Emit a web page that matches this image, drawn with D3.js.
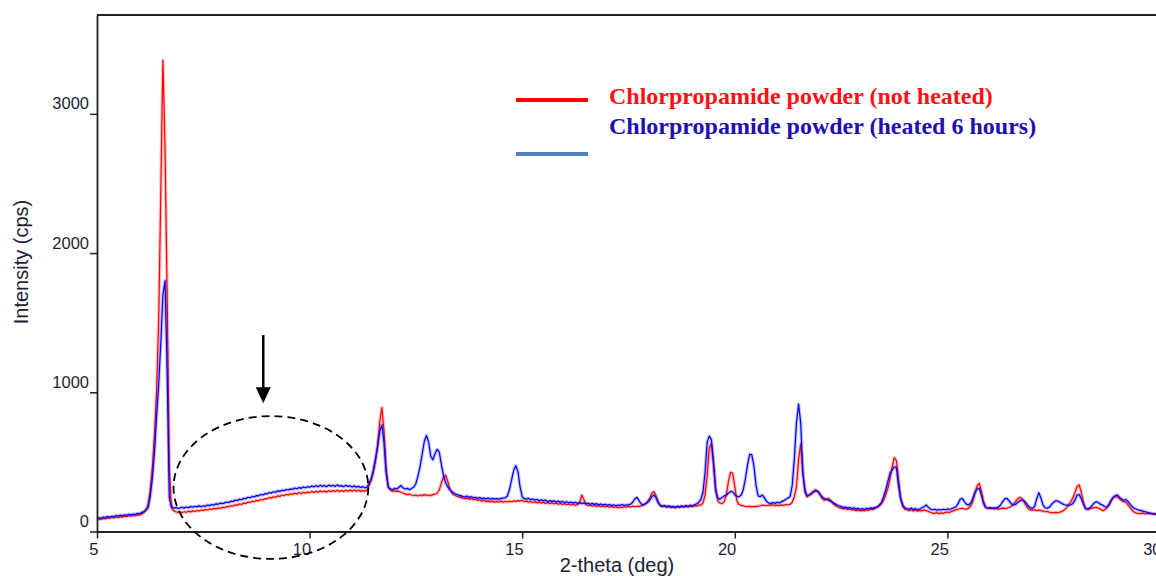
<!DOCTYPE html>
<html>
<head>
<meta charset="utf-8">
<script src="https://cdn.jsdelivr.net/npm/d3@7"></script>
<style>
  body { margin: 0; background: #fff; }
  svg { display: block; }
</style>
</head>
<body>
<div class="chart"></div>
<script>
// scan settings (2-theta, deg)
const scanStart = 5
const scanStep = 0.05

// Chlorpropamide powder (not heated), cps, one value per step from 5.00 to 30.00
const notHeated = [
  85, 90, 88, 94, 91, 98, 95, 101, 98, 104,
  101, 107, 104, 110, 107, 113, 110, 116, 113, 119,
  118, 125, 135, 155, 190, 290, 450, 680, 1000, 1500,
  2430, 3385, 2750, 1700, 450, 170, 150, 142, 138, 140,
  136, 142, 138, 146, 141, 148, 144, 151, 147, 154,
  152, 158, 155, 162, 158, 166, 162, 170, 166, 174,
  172, 180, 176, 185, 182, 192, 188, 198, 194, 204,
  202, 212, 208, 218, 214, 224, 220, 230, 226, 236,
  234, 244, 240, 250, 246, 256, 252, 262, 258, 266,
  262, 272, 266, 276, 270, 280, 272, 282, 276, 284,
  278, 288, 280, 290, 282, 292, 284, 290, 283, 294,
  286, 294, 287, 296, 288, 295, 287, 296, 289, 297,
  290, 298, 289, 296, 288, 294, 290, 298, 330, 370,
  430, 510, 620, 790, 890, 720, 450, 320, 298, 290,
  292, 288, 290, 282, 275, 270, 265, 268, 262, 258,
  262, 255, 262, 258, 265, 260, 262, 258, 265, 268,
  275, 300, 350, 390, 405, 360, 300, 275, 262, 255,
  250, 245, 240, 236, 240, 232, 236, 228, 232, 224,
  228, 218, 224, 215, 220, 212, 218, 210, 216, 212,
  218, 210, 216, 212, 218, 214, 220, 216, 222, 218,
  224, 214, 218, 210, 216, 208, 214, 206, 212, 204,
  210, 202, 208, 200, 206, 198, 204, 196, 202, 194,
  200, 192, 198, 190, 196, 188, 194, 205, 262, 230,
  195, 186, 190, 182, 188, 180, 186, 178, 184, 176,
  182, 174, 180, 172, 178, 170, 176, 172, 178, 174,
  180, 176, 182, 178, 183, 179, 184, 190, 200, 215,
  240, 275, 286, 255, 210, 185, 178, 182, 174, 180,
  172, 176, 170, 178, 172, 180, 174, 182, 176, 184,
  178, 186, 182, 190, 190, 205, 260, 400, 600, 630,
  500, 300, 220, 205, 200, 215, 260, 360, 425, 420,
  320, 220, 195, 188, 185, 180, 178, 182, 176, 180,
  178, 182, 185, 190, 188, 185, 190, 188, 192, 186,
  190, 186, 192, 188, 194, 192, 195, 210, 250, 320,
  520, 630, 420, 280, 250, 262, 275, 290, 300, 290,
  265, 240, 225, 232, 238, 225, 205, 190, 180, 172,
  168, 162, 166, 158, 162, 155, 158, 150, 154, 148,
  152, 148, 156, 152, 160, 158, 166, 172, 185, 200,
  225, 265, 310, 380, 460, 530, 510, 380, 240, 180,
  160, 156, 150, 158, 148, 154, 146, 152, 148, 155,
  150, 144, 138, 132, 130, 136, 128, 134, 130, 136,
  140, 136, 145, 150, 156, 160, 165, 167, 162, 160,
  168, 185, 220, 280, 330, 346, 290, 215, 175, 167,
  165, 168, 162, 166, 160, 164, 168, 166, 167, 172,
  180, 195, 215, 235, 245, 238, 215, 185, 165, 155,
  152, 156, 150, 154, 150, 146, 142, 145, 138, 136,
  135, 138, 135, 140, 145, 155, 170, 190, 215, 240,
  280, 325, 334, 280, 210, 165, 160, 162, 168, 172,
  174, 168, 160, 150, 155, 170, 195, 225, 245, 250,
  248, 235, 220, 215, 210, 190, 170, 150, 138, 132,
  130, 128, 132, 126, 130, 128, 126, 124, 122, 120,
  118
]

// Chlorpropamide powder (heated 6 hours), cps
const heated6h = [
  92, 98, 95, 104, 100, 108, 103, 110, 106, 114,
  110, 118, 112, 120, 116, 124, 119, 126, 122, 130,
  128, 137, 142, 155, 170, 250, 380, 560, 820, 1050,
  1350, 1700, 1800, 1150, 240, 180, 168, 172, 165, 170,
  174, 168, 176, 171, 179, 174, 181, 177, 184, 178,
  185, 181, 190, 186, 194, 190, 199, 195, 204, 200,
  206, 212, 208, 218, 215, 226, 222, 232, 228, 238,
  236, 246, 242, 252, 248, 258, 256, 266, 262, 272,
  270, 280, 276, 285, 282, 292, 288, 296, 293, 302,
  298, 306, 302, 312, 306, 316, 310, 320, 314, 322,
  318, 326, 320, 330, 322, 332, 324, 330, 322, 334,
  326, 332, 324, 335, 326, 330, 322, 332, 324, 328,
  320, 328, 318, 324, 316, 322, 314, 320, 345, 380,
  440, 520, 610, 720, 765, 640, 420, 320, 305, 300,
  310, 305, 318, 330, 312, 305, 310, 300, 310, 318,
  345, 400, 470, 560, 650, 690, 640, 540, 515, 560,
  590, 570, 480, 400, 350, 320, 300, 285, 275, 268,
  262, 258, 252, 248, 255, 245, 250, 242, 246, 238,
  244, 236, 240, 234, 240, 232, 238, 233, 236, 232,
  238, 240, 242, 255, 300, 370, 440, 472, 430, 320,
  250, 236, 232, 238, 228, 234, 226, 230, 222, 228,
  220, 226, 214, 222, 216, 220, 212, 218, 210, 216,
  208, 214, 206, 212, 204, 210, 202, 208, 200, 206,
  198, 204, 196, 202, 195, 200, 192, 198, 190, 196,
  188, 194, 186, 192, 184, 190, 188, 194, 186, 192,
  190, 198, 210, 235, 245, 220, 198, 192, 200, 210,
  225, 250, 262, 240, 205, 188, 182, 186, 178, 184,
  176, 180, 174, 182, 176, 184, 178, 186, 180, 188,
  184, 192, 198, 210, 230, 280, 420, 640, 685, 660,
  480, 300, 240, 232, 245, 255, 262, 275, 288, 284,
  265, 252, 250, 262, 300, 380, 480, 555, 550, 470,
  330, 255, 250, 262, 240, 215, 205, 200, 208, 202,
  210, 205, 215, 220, 232, 240, 250, 330, 520, 780,
  915, 780, 420, 300, 255, 262, 270, 282, 292, 288,
  270, 250, 238, 230, 225, 218, 210, 200, 192, 185,
  180, 172, 176, 168, 172, 165, 170, 162, 166, 158,
  164, 158, 166, 162, 170, 166, 174, 178, 190, 210,
  250, 300, 360, 420, 440, 465, 460, 330, 235, 190,
  170, 165, 160, 168, 158, 164, 156, 162, 170, 178,
  190, 175, 162, 156, 160, 152, 158, 154, 160, 156,
  162, 158, 165, 170, 178, 200, 232, 238, 215, 195,
  190, 205, 240, 280, 305, 310, 260, 200, 172, 167,
  172, 166, 170, 168, 175, 190, 215, 235, 238, 220,
  200, 190, 195, 208, 220, 226, 222, 205, 185, 170,
  166, 180, 235, 279, 240, 190, 170, 167, 175, 195,
  210, 221, 218, 210, 200, 192, 190, 188, 192, 200,
  225, 262, 265, 235, 195, 165, 160, 170, 185, 205,
  214, 208, 195, 190, 178, 175, 190, 220, 245, 258,
  262, 245, 232, 226, 228, 215, 195, 178, 165, 160,
  154, 150, 146, 142, 138, 134, 130, 128, 126, 122,
  120
]

const xTicks = [5, 10, 15, 20, 25, 30]
const yTicks = [0, 1000, 2000, 3000]
const seriesNames = ['Chlorpropamide powder (not heated)', 'Chlorpropamide powder (heated 6 hours)']
const lineColors = ['#ff0000', '#0000ff']
const legendTextColors = ['#ff1010', '#2010b0']
const legendLineColors = ['#ff0000', '#4f81bd']

const W = 1156, H = 576
const margin = {left: 97, top: 15, bottom: 44.5}
const plotRight = 1160

const svg = d3.select('.chart')
  .append('svg')
  .attr('width', W)
  .attr('height', H)

const x = d3.scaleLinear().domain([5, 30]).range([margin.left, plotRight])
const y = d3.scaleLinear().domain([0, 3710]).range([H - margin.bottom, margin.top])

const pts = arr => arr.map((v, i) => [scanStart + i * scanStep, v])

const line = d3.line()
  .x(d => x(d[0]))
  .y(d => y(d[1]))

const series = [pts(notHeated), pts(heated6h)]

// traces (red first, blue on top), soft halo under a thin core
series.forEach((s, k) => {
  svg.append('path')
    .datum(s)
    .attr('d', line)
    .attr('fill', 'none')
    .attr('stroke', lineColors[k])
    .attr('stroke-opacity', 0.25)
    .attr('stroke-width', 3.4)
    .attr('stroke-linejoin', 'round')
  svg.append('path')
    .datum(s)
    .attr('d', line)
    .attr('fill', 'none')
    .attr('stroke', lineColors[k])
    .attr('stroke-width', 1.2)
    .attr('stroke-linejoin', 'round')
})

// frame top
svg.append('line')
  .attr('x1', margin.left).attr('x2', plotRight)
  .attr('y1', y.range()[1]).attr('y2', y.range()[1])
  .attr('stroke', '#222').attr('stroke-width', 1.8)

const axisFont = '"Liberation Sans", Arial, sans-serif'

const yAxis = svg.append('g')
  .attr('transform', `translate(${margin.left},0)`)
  .call(d3.axisLeft(y).tickValues(yTicks).tickFormat(d3.format('d')).tickSize(7).tickSizeOuter(0).tickPadding(1))
yAxis.select('.domain').attr('stroke', '#222').attr('stroke-width', 1.8)
yAxis.selectAll('.tick line').attr('stroke', '#222').attr('stroke-width', 1.5)
yAxis.selectAll('.tick text')
  .attr('dy', '-5')
  .attr('fill', '#1c2233')
  .style('font-family', axisFont)
  .style('font-size', '16.5px')

const xAxis = svg.append('g')
  .attr('transform', `translate(0,${y(0)})`)
  .call(d3.axisBottom(x).tickValues(xTicks).tickFormat(d3.format('d')).tickSize(7).tickSizeOuter(0))
xAxis.select('.domain').attr('stroke', '#222').attr('stroke-width', 1.8)
xAxis.selectAll('.tick line').attr('stroke', '#222').attr('stroke-width', 1.5)
xAxis.selectAll('.tick text')
  .attr('text-anchor', 'end')
  .attr('x', 1)
  .attr('y', 23)
  .attr('dy', 0)
  .attr('fill', '#1c2233')
  .style('font-family', axisFont)
  .style('font-size', '16.5px')

// axis titles
svg.append('text')
  .attr('x', 617).attr('y', 572)
  .attr('text-anchor', 'middle')
  .attr('fill', '#1c2233')
  .style('font-family', axisFont)
  .style('font-size', '20px')
  .text('2-theta (deg)')

svg.append('text')
  .attr('transform', 'translate(27.5,262) rotate(-90)')
  .attr('text-anchor', 'middle')
  .attr('fill', '#1c2233')
  .style('font-family', axisFont)
  .style('font-size', '20px')
  .text('Intensity (cps)')

// legend
const legend = svg.append('g')
legend.selectAll('line')
  .data(legendLineColors)
  .enter()
  .append('line')
  .attr('x1', 516).attr('x2', 588)
  .attr('y1', (d, i) => i ? 154 : 100)
  .attr('y2', (d, i) => i ? 154 : 100)
  .attr('stroke', d => d)
  .attr('stroke-width', 4)
legend.selectAll('text')
  .data(seriesNames)
  .enter()
  .append('text')
  .attr('x', 609)
  .attr('y', (d, i) => 104 + i * 30)
  .attr('fill', (d, i) => legendTextColors[i])
  .style('font-family', '"Liberation Serif", "Times New Roman", serif')
  .style('font-weight', 'bold')
  .style('font-size', '24px')
  .text(d => d)

// annotation: dashed ellipse round the amorphous halo and arrow pointing at it
const halo = {cx: 9.09, cy: 316, rx: 2.29, ry: 513}
svg.append('ellipse')
  .attr('cx', x(halo.cx))
  .attr('cy', y(halo.cy))
  .attr('rx', x(halo.cx + halo.rx) - x(halo.cx))
  .attr('ry', y(0) - y(halo.ry))
  .attr('fill', 'none')
  .attr('stroke', '#000')
  .attr('stroke-width', 1.8)
  .attr('stroke-dasharray', '8,5')

const arrow = {x: 8.91, from: 1411, to: 922}
svg.append('line')
  .attr('x1', x(arrow.x)).attr('x2', x(arrow.x))
  .attr('y1', y(arrow.from)).attr('y2', y(arrow.to) - 14)
  .attr('stroke', '#000').attr('stroke-width', 2.5)
svg.append('path')
  .attr('d', `M${x(arrow.x) - 7.5},${y(arrow.to) - 16} L${x(arrow.x) + 7.5},${y(arrow.to) - 16} L${x(arrow.x)},${y(arrow.to)} Z`)
  .attr('fill', '#000')
</script>
</body>
</html>
